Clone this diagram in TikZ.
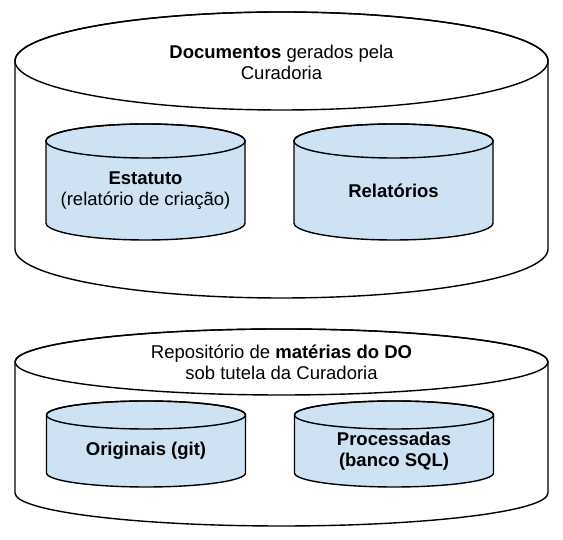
\documentclass[tikz,border=0pt]{standalone}
\usepackage{fontspec}
\setmainfont{Liberation Sans}
\definecolor{azulclaro}{HTML}{CFE2F3}
% cylinder: centre x, top y, bottom y, x radius, y radius, fill
\newcommand{\cilindro}[6]{%
  \filldraw[fill=#6] ({#1-#4},#2) -- ({#1-#4},#3)
    arc[start angle=180, end angle=360, x radius=#4pt, y radius=#5pt]
    -- ({#1+#4},#2)
    arc[start angle=0, end angle=180, x radius=#4pt, y radius=#5pt] -- cycle;
  \draw (#1,#2) ellipse [x radius=#4pt, y radius=#5pt];
}
\tikzset{
  texto/.style={align=center, inner sep=0pt, font={\fontsize{18.5}{21}\selectfont}}
}
\begin{document}
\begin{tikzpicture}[x=1pt, y=1pt, line width=1.4pt, line join=round]
      \useasboundingbox (0,0) rectangle (563,540);
      \def\rxg{266.5};
      \def\rxp{99.5};
      %
      % top block: documents
      \cilindro{281.5}{479}{291}{\rxg}{49}{white}
      \node[texto] (docs) at (281.5,478) {\textbf{Documentos} gerados pela\\Curadoria};
      \cilindro{145.5}{399}{317}{\rxp}{17}{azulclaro}
      \node[texto] (estatuto) at (145.5,349) {\textbf{Estatuto}\\(relatório de criação)};
      \cilindro{393.5}{399}{317}{\rxp}{17}{azulclaro}
      \node[texto] (relat) at (393.5,349) {\textbf{Relatórios}};
      %
      % bottom block: repository
      \cilindro{281.5}{178}{47}{\rxg}{33}{white}
      \node[texto] (repo) at (281.5,178) {Repositório de \textbf{matérias do DO}\\sob tutela da Curadoria};
      \cilindro{146}{125}{67}{\rxp}{14}{azulclaro}
      \node[texto] (orig) at (146,89) {\textbf{Originais (git)}};
      \cilindro{394}{125}{67}{\rxp}{14}{azulclaro}
      \node[texto] (proc) at (394,89) {\textbf{Processadas}\\\textbf{(banco SQL)}};
      %
    \end{tikzpicture}
\end{document}
